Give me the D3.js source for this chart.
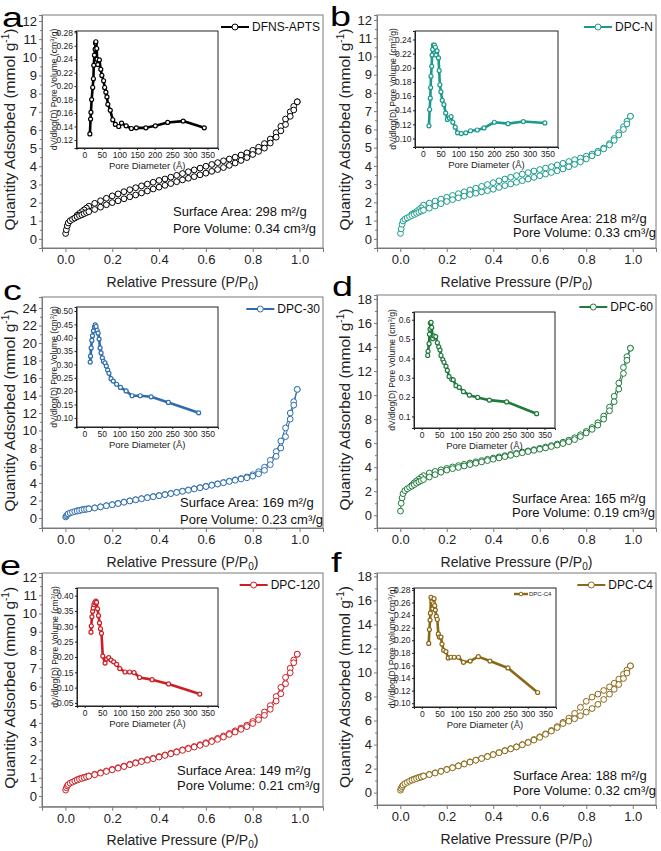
<!DOCTYPE html>
<html><head><meta charset="utf-8">
<script src="https://cdn.jsdelivr.net/npm/d3@7"></script>
<style>body{margin:0;background:#fff} svg{display:block} text{font-family:"Liberation Sans",Arial,sans-serif}</style>
</head><body><svg id="c" width="661" height="851"></svg>
<script>
// ---------------- DATA ----------------
const panelIds = ["a","b","c","d","e","f"];
const sampleNames = ["DFNS-APTS","DPC-N","DPC-30","DPC-60","DPC-120","DPC-C4"];
const seriesColors = ["#000000","#1a9a8b","#2e6dad","#1f7a3b","#cd1e25","#8a6816"];
const surfaceAreas = ["298","218","169","165","149","188"];
const poreVolumes = ["0.34","0.33","0.23","0.19","0.21","0.32"];

const xTicks = [0.0,0.2,0.4,0.6,0.8,1.0];
const yTicks12 = [0,1,2,3,4,5,6,7,8,9,10,11,12];
const yTicks24 = [0,2,4,6,8,10,12,14,16,18,20,22,24];
const yTicks18 = [0,2,4,6,8,10,12,14,16,18];
const insetXTicks = [0,50,100,150,200,250,300,350];
const insetYTicks_a = [0.12,0.14,0.16,0.18,0.20,0.22,0.24,0.26,0.28];
const insetYTicks_b = [0.10,0.12,0.14,0.16,0.18,0.20,0.22,0.24];
const insetYTicks_c = [0.10,0.15,0.20,0.25,0.30,0.35,0.40,0.45,0.50];
const insetYTicks_d = [0.1,0.2,0.3,0.4,0.5,0.6];
const insetYTicks_e = [0.05,0.10,0.15,0.20,0.25,0.30,0.35,0.40];
const insetYTicks_f = [0.10,0.12,0.14,0.16,0.18,0.20,0.22,0.24,0.26,0.28];

// relative pressure points (adsorption / desorption branches)
const adsP = [0.001,0.004,0.008,0.012,0.02,0.03,0.04,0.05,0.06,0.07,0.08,0.09,0.10,
  0.125,0.15,0.175,0.20,0.225,0.25,0.275,0.30,0.325,0.35,0.375,0.40,0.425,0.45,0.475,0.50,
  0.525,0.55,0.575,0.60,0.625,0.65,0.675,0.70,0.725,0.75,0.775,0.80,0.825,0.85,0.875,
  0.90,0.92,0.94,0.96,0.975,0.99];
const desP = [0.99,0.975,0.96,0.94,0.92,0.90,
  0.875,0.85,0.825,0.80,0.775,0.75,0.725,0.70,0.675,0.65,0.625,0.60,0.575,0.55,0.525,0.50,
  0.475,0.45,0.425,0.40,0.375,0.35,0.325,0.30,0.275,0.25,0.225,0.20,0.175,0.15,0.125,
  0.10,0.09,0.08,0.07,0.06,0.05];

const adsV_a = [0.3,0.5,0.72,0.88,1.0,1.08,1.15,1.22,1.28,1.33,1.39,1.45,1.5,
  1.62,1.75,1.88,2.0,2.1,2.21,2.32,2.42,2.53,2.64,2.75,2.85,2.95,3.05,3.15,3.25,3.34,3.43,3.53,3.62,3.72,3.82,3.93,4.05,4.18,4.32,4.48,4.65,4.82,5.0,5.28,
  5.6,5.95,6.3,6.75,7.1,7.55];
const desV_a = [7.55,7.3,7.0,6.6,6.2,5.85,
  5.5,5.25,5.05,4.88,4.74,4.62,4.5,4.4,4.3,4.2,4.1,4.0,3.9,3.8,3.7,3.6,3.5,3.4,3.3,3.22,3.12,3.02,2.92,2.82,2.71,2.6,2.48,2.37,2.24,2.1,1.96,
  1.8,1.7,1.6,1.5,1.4,1.3];

const adsV_b = [0.3,0.55,0.8,0.98,1.08,1.15,1.22,1.28,1.34,1.4,1.46,1.52,1.57,
  1.68,1.8,1.93,2.05,2.15,2.25,2.34,2.43,2.5,2.57,2.64,2.72,2.82,2.92,3.01,3.1,3.19,3.28,3.37,3.46,3.55,3.64,3.73,3.83,3.95,4.08,4.22,4.38,4.55,4.72,4.93,
  5.15,5.4,5.7,6.0,6.3,6.72];
const desV_b = [6.72,6.45,6.15,5.82,5.5,5.22,
  4.98,4.8,4.65,4.53,4.43,4.34,4.24,4.14,4.05,3.96,3.88,3.8,3.72,3.63,3.55,3.47,3.38,3.28,3.18,3.08,2.98,2.88,2.78,2.68,2.58,2.48,2.38,2.28,2.18,2.07,1.96,
  1.85,1.7,1.6,1.5,1.42,1.35];

const adsV_c = [0.12,0.25,0.38,0.48,0.58,0.66,0.74,0.8,0.86,0.92,0.97,1.01,1.05,
  1.15,1.27,1.4,1.52,1.65,1.8,1.95,2.08,2.2,2.32,2.43,2.55,2.67,2.79,2.92,3.05,3.18,3.32,3.46,3.6,3.74,3.88,4.03,4.18,4.32,4.46,4.6,4.78,5.05,5.45,6.1,
  7.05,8.0,9.3,11.3,12.9,14.7];
const desV_c = [14.7,13.3,12.0,10.3,8.8,7.6,
  6.6,5.8,5.3,4.95,4.7,4.52,4.37,4.22,4.07,3.92,3.78,3.63,3.49,3.35,3.21,3.08,2.95,2.82,2.7,2.58,2.46,2.34,2.22,2.1,1.97,1.83,1.68,1.54,1.42,1.29,1.17,
  1.07,1.03,0.99,0.94,0.88,0.82];

const adsV_d = [0.35,1.0,1.45,1.8,2.05,2.2,2.32,2.42,2.55,2.67,2.78,2.88,2.97,
  3.18,3.38,3.58,3.76,3.88,3.98,4.1,4.22,4.33,4.44,4.55,4.66,4.77,4.88,4.99,5.1,5.2,5.3,5.4,5.5,5.6,5.72,5.84,5.97,6.12,6.3,6.55,6.85,7.15,7.5,8.0,
  8.7,9.45,10.5,11.8,12.9,13.9];
const desV_d = [13.9,13.2,12.3,11.0,9.9,9.0,
  8.25,7.7,7.3,6.98,6.7,6.45,6.25,6.08,5.93,5.8,5.68,5.57,5.46,5.36,5.26,5.16,5.06,4.96,4.86,4.76,4.66,4.55,4.45,4.35,4.24,4.13,4.02,3.9,3.78,3.65,3.52,
  3.3,3.15,3.0,2.85,2.7,2.5];

const adsV_e = [0.32,0.45,0.55,0.62,0.7,0.76,0.82,0.87,0.92,0.96,1.0,1.04,1.08,
  1.16,1.25,1.34,1.43,1.52,1.61,1.71,1.8,1.88,1.96,2.04,2.13,2.22,2.31,2.4,2.5,2.59,2.68,2.77,2.87,2.98,3.1,3.23,3.37,3.5,3.65,3.8,3.97,4.18,4.42,4.75,
  5.2,5.6,6.15,6.75,7.3,7.77];
const desV_e = [7.77,7.45,7.0,6.5,5.95,5.45,
  4.95,4.6,4.32,4.08,3.88,3.72,3.57,3.43,3.29,3.16,3.03,2.92,2.81,2.71,2.62,2.53,2.43,2.34,2.25,2.16,2.07,1.99,1.91,1.83,1.74,1.64,1.55,1.46,1.37,1.28,1.19,
  1.1,1.06,1.02,0.98,0.94,0.89];

const adsV_f = [0.2,0.35,0.5,0.62,0.75,0.85,0.95,1.03,1.1,1.17,1.24,1.3,1.37,
  1.5,1.63,1.77,1.92,2.07,2.22,2.38,2.54,2.69,2.84,3.0,3.16,3.32,3.48,3.64,3.8,3.98,4.17,4.37,4.6,4.85,5.12,5.42,5.75,5.95,6.15,6.4,6.7,7.0,7.35,7.75,
  8.2,8.6,9.0,9.5,9.95,10.55];
const desV_f = [10.55,10.2,9.85,9.45,9.1,8.8,
  8.5,8.2,7.95,7.6,7.1,6.6,6.2,5.85,5.5,5.18,4.9,4.65,4.42,4.2,4.0,3.82,3.66,3.5,3.34,3.18,3.02,2.86,2.71,2.56,2.4,2.24,2.09,1.94,1.79,1.65,1.52,
  1.39,1.33,1.27,1.2,1.13,1.06];

// pore size distributions (inset): diameter (Å) and dV/dlog(D)
const psdD_a = [16,18,19,21,24,26,27,29,31,32,33,35.5,36.5,38.5,43,47,50,55,58,61.5,64.5,67,74,81,88.5,98,106,119,134,148,175,202,237,281,341];
const psdV_a = [0.129,0.151,0.161,0.180,0.198,0.211,0.231,0.246,0.255,0.264,0.266,0.256,0.240,0.232,0.239,0.225,0.216,0.208,0.198,0.191,0.184,0.173,0.164,0.150,0.143,0.140,0.145,0.141,0.137,0.138,0.138,0.141,0.146,0.148,0.138];
const psdD_b = [17.2,19.2,21,22,23,25,25.9,27.8,29.7,32.6,35.4,37.4,40,44,46,47.9,50.8,54.6,59.4,64.2,69,74.7,79.5,84.3,91,97.7,108,120.7,134,153,172,201,239.5,282.6,343];
const psdV_b = [0.118,0.141,0.157,0.172,0.188,0.202,0.218,0.226,0.232,0.232,0.229,0.218,0.224,0.214,0.196,0.176,0.166,0.154,0.148,0.136,0.127,0.129,0.131,0.123,0.116,0.108,0.107,0.108,0.111,0.112,0.115,0.123,0.121,0.124,0.122];
const psdD_c = [16.9,17.8,19.7,21.6,23.4,26.2,29,31,33.7,36.6,39.4,42.2,45,47.8,51.5,54.4,59,62.8,66.5,70.3,76,82.5,92,103,119,136,159,190,239,325];
const psdV_c = [0.309,0.331,0.362,0.39,0.407,0.426,0.44,0.448,0.442,0.427,0.417,0.395,0.362,0.343,0.325,0.312,0.306,0.294,0.279,0.267,0.247,0.238,0.226,0.214,0.201,0.183,0.183,0.179,0.158,0.119];
const psdD_d = [17,18,21,22,23.7,24.7,26.6,28.5,31.3,35,40,44.6,48.4,52.2,55,60,63.6,69.3,73,78,85.5,90,97.8,107,119,136,159.5,193,242,327.6];
const psdV_d = [0.415,0.437,0.476,0.525,0.551,0.583,0.586,0.56,0.502,0.516,0.513,0.481,0.46,0.443,0.415,0.394,0.38,0.359,0.338,0.306,0.292,0.289,0.259,0.25,0.228,0.21,0.198,0.184,0.175,0.114];
const psdD_e = [17.8,18.7,20.6,22.5,24.4,26.2,29,31.9,33.7,36.6,39.4,42.2,45,47.8,51.5,58,62.8,68.4,75,82.5,91,100,115,128,140.6,156.5,192,239,328];
const psdV_e = [0.281,0.301,0.331,0.349,0.36,0.371,0.378,0.382,0.378,0.357,0.335,0.311,0.292,0.277,0.203,0.18,0.193,0.198,0.19,0.184,0.176,0.162,0.151,0.151,0.149,0.133,0.126,0.112,0.079];
const psdD_f = [19.7,21.6,23.4,24.4,26.2,29,30.9,32.8,34.7,36.6,38.4,41.2,44,46.9,49.7,54.4,57.2,61.9,68.4,75,82.5,91.8,104,118,137,160,193,244,328];
const psdV_f = [0.195,0.217,0.232,0.243,0.268,0.261,0.25,0.258,0.266,0.255,0.248,0.238,0.233,0.21,0.205,0.205,0.194,0.184,0.182,0.172,0.173,0.173,0.173,0.165,0.167,0.174,0.167,0.156,0.117];

const adsSeries = [adsV_a,adsV_b,adsV_c,adsV_d,adsV_e,adsV_f];
const desSeries = [desV_a,desV_b,desV_c,desV_d,desV_e,desV_f];
const psdDs = [psdD_a,psdD_b,psdD_c,psdD_d,psdD_e,psdD_f];
const psdVs = [psdV_a,psdV_b,psdV_c,psdV_d,psdV_e,psdV_f];
const mainYTicks = [yTicks12,yTicks12,yTicks24,yTicks18,yTicks12,yTicks18];
const insetYTicks = [insetYTicks_a,insetYTicks_b,insetYTicks_c,insetYTicks_d,insetYTicks_e,insetYTicks_f];

// ---------------- LAYOUT ----------------
const layout = [
 {L:42,R:323,T:15,B:248,yd:[-0.5,12.33],letter:[2,27],ann:[173,216,233],
  ins:{L:76.5,R:218,T:31,B:148,yd:[0.108,0.282],fmt:".2f"}},
 {L:377,R:656,T:15,B:248,yd:[-0.5,12.27],letter:[330,26],ann:[513,223,237],
  ins:{L:415,R:558,T:31,B:147,yd:[0.088,0.252],fmt:".2f"}},
 {L:42,R:323,T:297,B:528,yd:[-1.14,25.26],letter:[3,300],ann:[180,507,523.5],
  ins:{L:76.5,R:218,T:307,B:427,yd:[0.066,0.515],fmt:".2f"}},
 {L:377,R:656,T:295,B:528,yd:[-1.06,18.33],letter:[332,296],ann:[512,503,517],
  ins:{L:414,R:555,T:312,B:428,yd:[0.04,0.64],fmt:".1f"}},
 {L:42,R:323,T:573,B:806.7,yd:[-0.59,12.22],letter:[0,575],ann:[177,774.5,789.5],
  ins:{L:77,R:218,T:588,B:706,yd:[0.04,0.425],fmt:".2f"}},
 {L:377,R:656,T:573,B:805,yd:[-1.03,18.28],letter:[331,572],ann:[513,779.5,794.5],
  ins:{L:414,R:556,T:588,B:707,yd:[0.094,0.283],fmt:".2f"}}
];

const svg = d3.select("#c");
const frameCol = "#7a7a7a";

function styleAxis(sel, size, col){
  sel.select(".domain").attr("stroke", col);
  sel.selectAll(".tick line").attr("stroke", col);
  sel.selectAll(".tick text").attr("font-size", size).attr("fill","#222")
     .attr("font-family",'"Liberation Sans",Arial,sans-serif');
}

function drawPanel(i){
  const lay = layout[i], col = seriesColors[i];
  const g = svg.append("g");
  const x = d3.scaleLinear().domain([-0.1,1.1]).range([lay.L,lay.R]);
  const y = d3.scaleLinear().domain(lay.yd).range([lay.B,lay.T]);

  g.append("rect").attr("x",lay.L).attr("y",lay.T).attr("width",lay.R-lay.L).attr("height",lay.B-lay.T)
    .attr("fill","none").attr("stroke",frameCol).attr("stroke-width",1);

  const yt = mainYTicks[i];
  const yMinor = yt.slice(1).map((v,k)=>(v+yt[k])/2);
  const xMinor = [-0.1,0.1,0.3,0.5,0.7,0.9,1.1];

  const xa = g.append("g").attr("transform",`translate(0,${lay.B})`)
    .call(d3.axisBottom(x).tickValues(xTicks).tickFormat(d3.format(".1f")).tickSize(4).tickPadding(3));
  styleAxis(xa,13,frameCol);
  const xm = g.append("g").attr("transform",`translate(0,${lay.B})`)
    .call(d3.axisBottom(x).tickValues(xMinor).tickFormat("").tickSize(2));
  xm.select(".domain").remove(); xm.selectAll("line").attr("stroke",frameCol);

  const ya = g.append("g").attr("transform",`translate(${lay.L},0)`)
    .call(d3.axisLeft(y).tickValues(yt).tickFormat(d3.format("d")).tickSize(3).tickPadding(2));
  styleAxis(ya,13,frameCol);
  const ym = g.append("g").attr("transform",`translate(${lay.L},0)`)
    .call(d3.axisLeft(y).tickValues(yMinor).tickFormat("").tickSize(2));
  ym.select(".domain").remove(); ym.selectAll("line").attr("stroke",frameCol);

  // axis titles
  const xt = g.append("text").attr("x",(lay.L+lay.R)/2).attr("y",lay.B+38.5).attr("text-anchor","middle")
    .attr("font-size",14).attr("fill","#222");
  xt.append("tspan").text("Relative Pressure (P/P");
  xt.append("tspan").attr("dy",3).attr("font-size",10).text("0");
  xt.append("tspan").attr("dy",-3).text(")");

  const ytl = g.append("text").attr("transform",`translate(${lay.L-27},${(lay.T+lay.B)/2-2}) rotate(-90)`)
    .attr("text-anchor","middle").attr("font-size",15.5).attr("fill","#222");
  ytl.append("tspan").text("Quantity Adsorbed (mmol g");
  ytl.append("tspan").attr("dy",-6).attr("font-size",10).text("-1");
  ytl.append("tspan").attr("dy",6).text(")");

  // panel letter
  g.append("text").attr("transform",`translate(${lay.letter[0]},${lay.letter[1]}) scale(1.35,1)`)
    .attr("font-size",28).attr("fill","#000").text(panelIds[i]);

  // isotherm branches
  const ads = adsP.map((p,k)=>[p,adsSeries[i][k]]);
  const des = desP.map((p,k)=>[p,desSeries[i][k]]);
  const line = d3.line().x(d=>x(d[0])).y(d=>y(d[1]));
  [des,ads].forEach(br=>{
    g.append("path").datum(br).attr("d",line).attr("fill","none").attr("stroke",col).attr("stroke-width",1);
  });
  [des,ads].forEach(br=>{
    g.append("g").selectAll("circle").data(br).join("circle")
      .attr("cx",d=>x(d[0])).attr("cy",d=>y(d[1])).attr("r",2.9)
      .attr("fill","#fff").attr("stroke",col).attr("stroke-width",1);
  });

  // legend
  const ly = lay.T+12;
  const lt = g.append("text").attr("x",lay.R-3).attr("y",ly+4.3).attr("text-anchor","end")
    .attr("font-size",12).attr("fill","#111").text(sampleNames[i]);
  const w = lt.node().getComputedTextLength();
  const xs = lay.R-3-w;
  g.append("line").attr("x1",xs-31).attr("x2",xs-3).attr("y1",ly).attr("y2",ly).attr("stroke",col).attr("stroke-width",2);
  g.append("circle").attr("cx",xs-17).attr("cy",ly).attr("r",3).attr("fill","#fff").attr("stroke",col).attr("stroke-width",1);

  // annotation
  g.append("text").attr("x",lay.ann[0]).attr("y",lay.ann[1]).attr("font-size",13).attr("fill","#111")
    .text(`Surface Area: ${surfaceAreas[i]} m²/g`);
  g.append("text").attr("x",lay.ann[0]).attr("y",lay.ann[2]).attr("font-size",13).attr("fill","#111")
    .text(`Pore Volume: ${poreVolumes[i]} cm³/g`);

  drawInset(g,i);
}

function drawInset(parent,i){
  const s = layout[i].ins, col = seriesColors[i];
  const g = parent.append("g");
  const x = d3.scaleLinear().domain([-22,380]).range([s.L,s.R]);
  const y = d3.scaleLinear().domain(s.yd).range([s.B,s.T]);
  g.append("rect").attr("x",s.L).attr("y",s.T).attr("width",s.R-s.L).attr("height",s.B-s.T)
    .attr("fill","#fff").attr("stroke","#222").attr("stroke-width",1);
  const xa = g.append("g").attr("transform",`translate(0,${s.B})`)
    .call(d3.axisBottom(x).tickValues(insetXTicks).tickFormat(d3.format("d")).tickSize(2).tickPadding(1.5));
  styleAxis(xa,8.5,"#222");
  const ya = g.append("g").attr("transform",`translate(${s.L},0)`)
    .call(d3.axisLeft(y).tickValues(insetYTicks[i]).tickFormat(d3.format(s.fmt)).tickSize(2).tickPadding(1.5));
  styleAxis(ya,8.5,"#222");

  g.append("text").attr("x",(s.L+s.R)/2).attr("y",s.B+21).attr("text-anchor","middle")
    .attr("font-size",9.5).attr("fill","#222").text("Pore Diameter (Å)");
  const yt = g.append("text").attr("transform",`translate(${s.L-19.5},${(s.T+s.B)/2}) rotate(-90)`)
    .attr("text-anchor","middle").attr("font-size",8.5).attr("fill","#222");
  yt.append("tspan").text("dV/dlog(D) Pore Volume (cm");
  yt.append("tspan").attr("dy",-3).attr("font-size",6).text("3");
  yt.append("tspan").attr("dy",3).text("/g)");

  const pts = psdDs[i].map((d,k)=>[d,psdVs[i][k]]);
  g.append("path").datum(pts).attr("d",d3.line().x(d=>x(d[0])).y(d=>y(d[1])))
    .attr("fill","none").attr("stroke",col).attr("stroke-width",2.6).attr("stroke-linejoin","round");
  g.append("g").selectAll("circle").data(pts).join("circle")
    .attr("cx",d=>x(d[0])).attr("cy",d=>y(d[1])).attr("r",2)
    .attr("fill","#fff").attr("stroke",col).attr("stroke-width",1.2);

  if (i === 5){
    const lx = s.R-42, ly = s.T+6;
    g.append("line").attr("x1",lx).attr("x2",lx+14).attr("y1",ly).attr("y2",ly).attr("stroke",col).attr("stroke-width",2.4);
    g.append("circle").attr("cx",lx+7).attr("cy",ly).attr("r",1.8).attr("fill","#fff").attr("stroke",col).attr("stroke-width",1);
    g.append("text").attr("x",lx+15).attr("y",ly+2.2).attr("font-size",6).attr("fill","#222").text(sampleNames[i]);
  }
}

for (let i=0;i<6;i++) drawPanel(i);
</script>
</body></html>
